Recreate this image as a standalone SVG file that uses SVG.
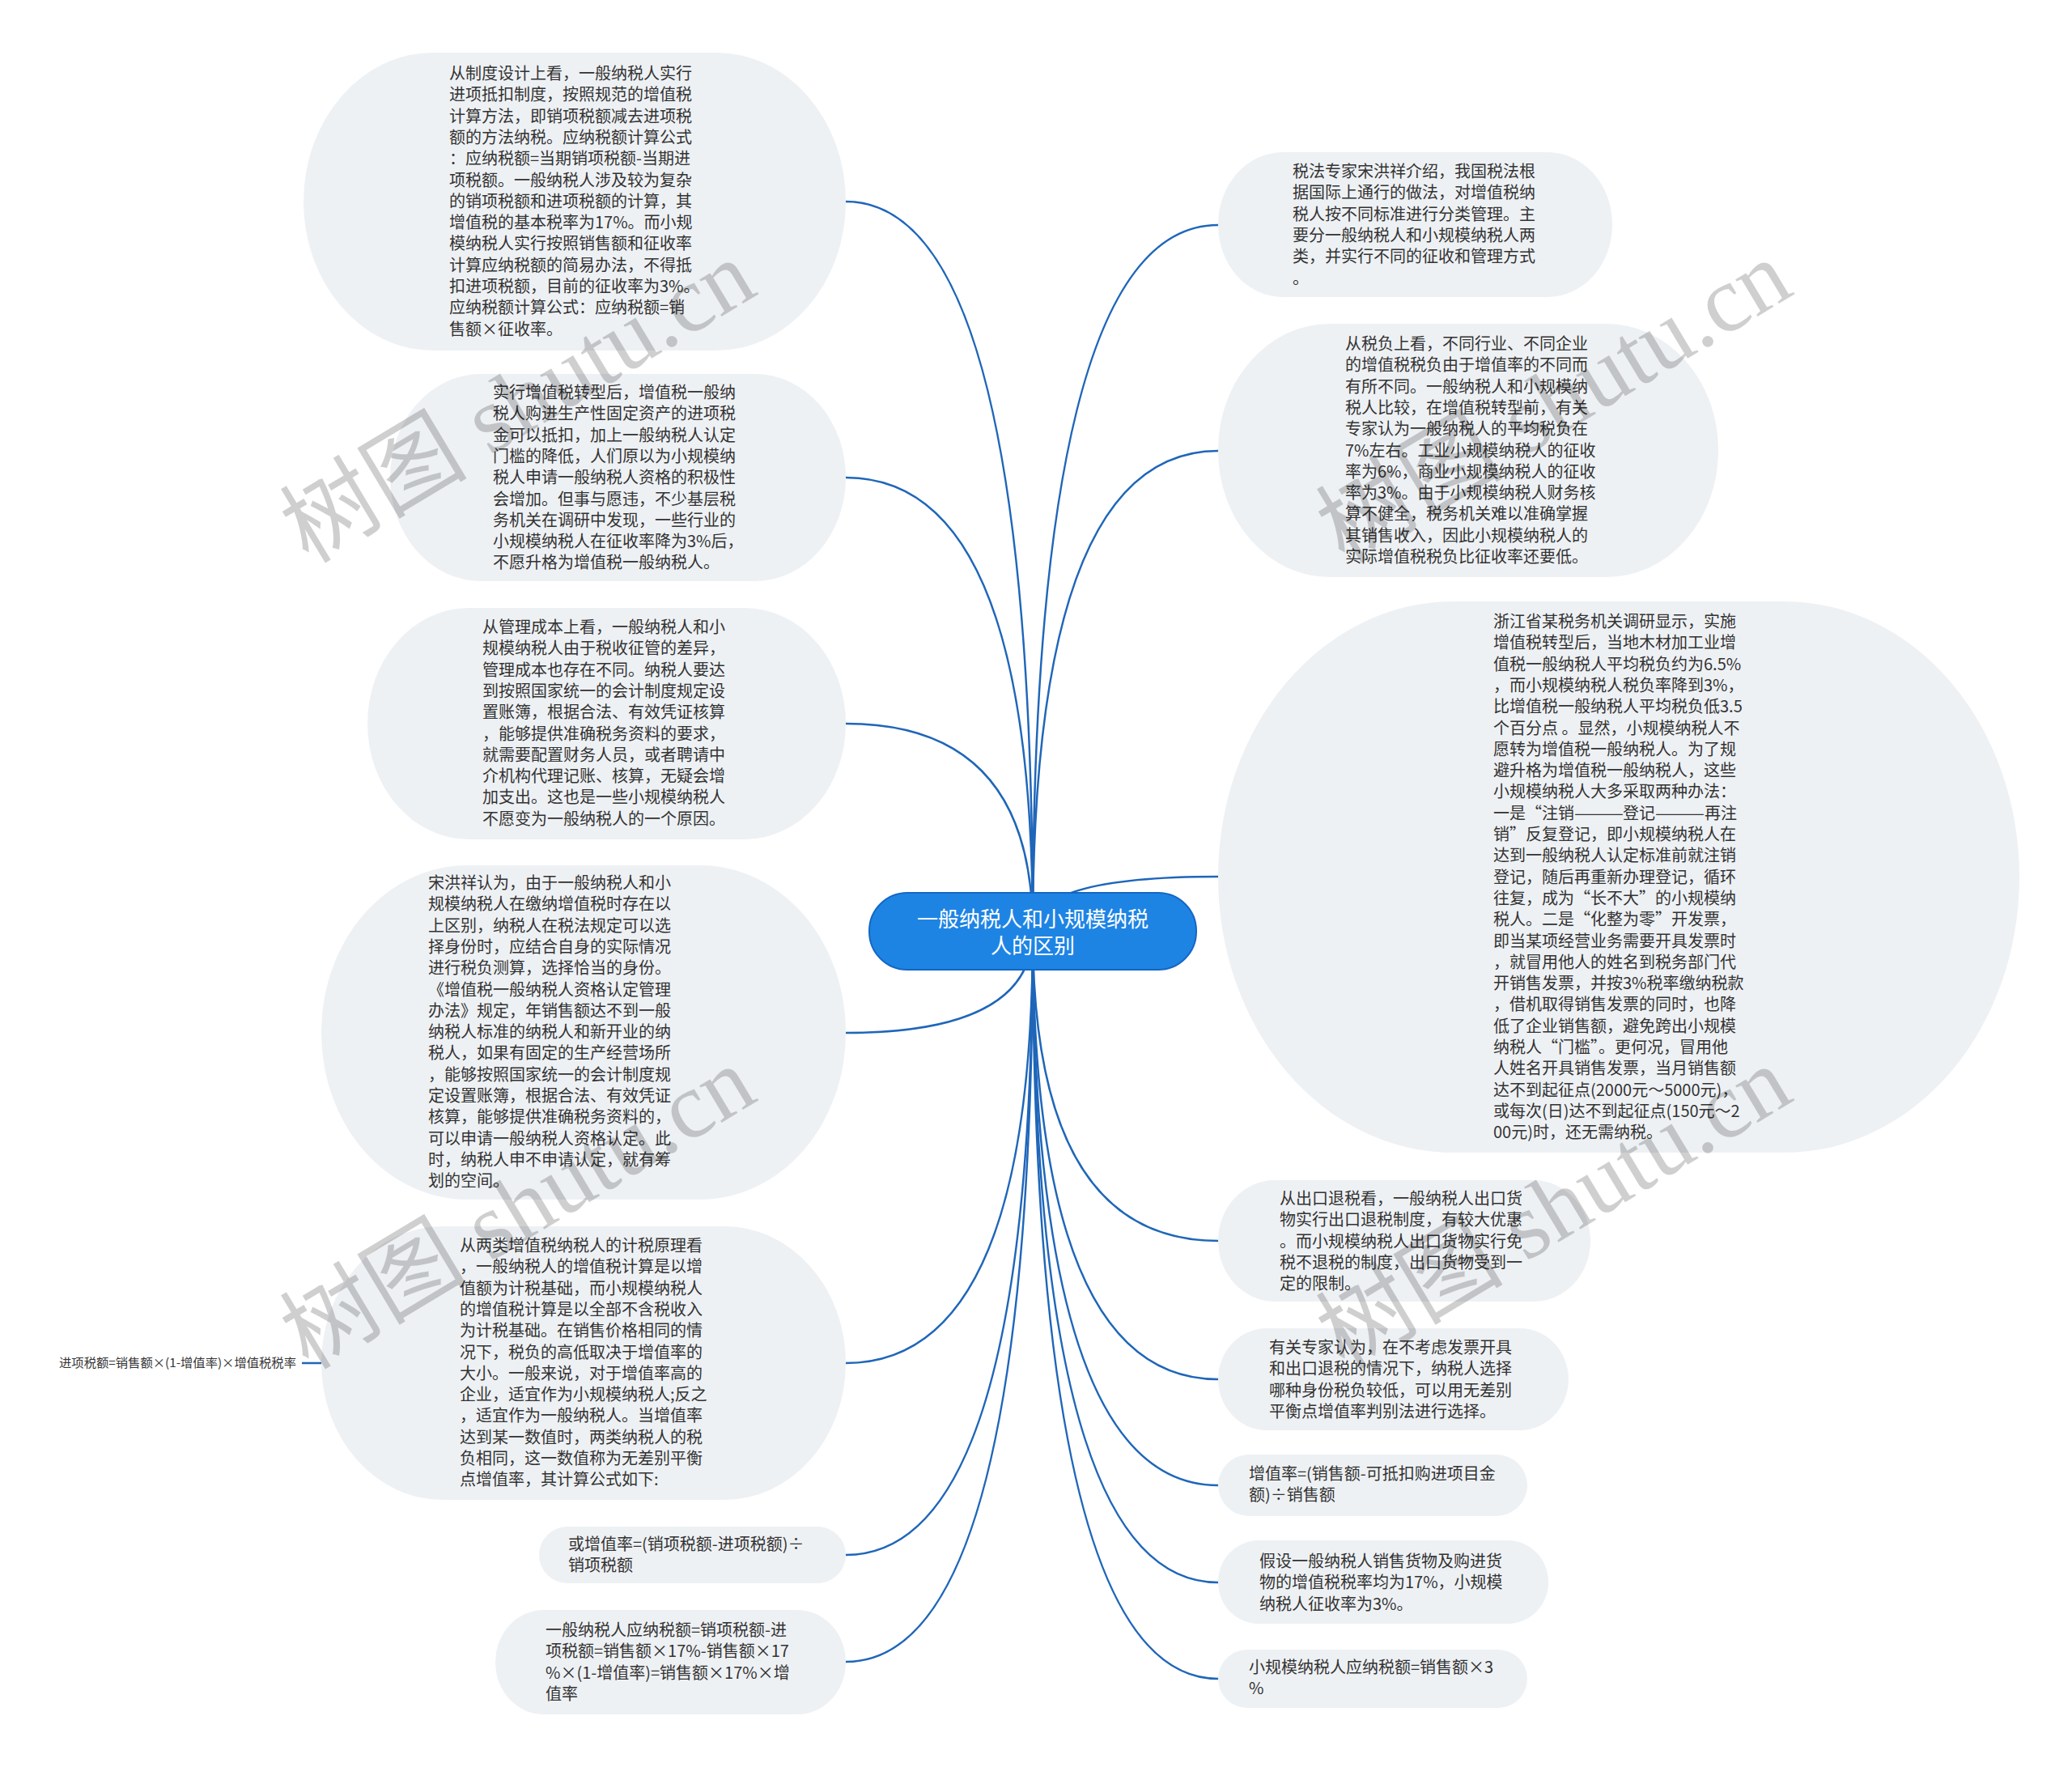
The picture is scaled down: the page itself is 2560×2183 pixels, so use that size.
<svg xmlns="http://www.w3.org/2000/svg" width="2560" height="2183" viewBox="0 0 2560 2183">
<style>
.bg{fill:#ffffff}
.node{fill:#eef1f4}
.t{font-family:"Noto Sans CJK SC","Noto Sans",sans-serif;font-size:20px;fill:#333333}
.lbl{font-family:"Noto Sans CJK SC","Noto Sans",sans-serif;font-size:15px;fill:#333333}
.edge{fill:none;stroke:#1f66b9;stroke-width:2.5}
.root{fill:#1e84e4;stroke:#1467c4;stroke-width:2}
.rt{font-family:"Noto Sans CJK SC","Noto Sans",sans-serif;font-size:26px;fill:#ffffff;text-anchor:middle}
.wm{font-family:"Liberation Serif","Noto Sans CJK SC",serif;font-size:116px;fill:#000000;fill-opacity:0.19;text-anchor:middle}
</style>
<rect class="bg" x="0" y="0" width="2560" height="2183"/>
<g id="connectors">
<path class="edge" d="M1276,1150 Q1276,249 1045,249"/>
<path class="edge" d="M1276,1150 Q1276,590 1045,590"/>
<path class="edge" d="M1276,1150 Q1276,894 1045,894"/>
<path class="edge" d="M1276,1150 Q1276,1276 1045,1276"/>
<path class="edge" d="M1276,1150 Q1276,1684 1045,1684"/>
<path class="edge" d="M1276,1150 Q1276,1921 1045,1921"/>
<path class="edge" d="M1276,1150 Q1276,2053 1045,2053"/>
<path class="edge" d="M1276,1150 Q1276,278 1505,278"/>
<path class="edge" d="M1276,1150 Q1276,557 1505,557"/>
<path class="edge" d="M1276,1150 Q1276,1083 1505,1083"/>
<path class="edge" d="M1276,1150 Q1276,1533 1505,1533"/>
<path class="edge" d="M1276,1150 Q1276,1704 1505,1704"/>
<path class="edge" d="M1276,1150 Q1276,1835 1505,1835"/>
<path class="edge" d="M1276,1150 Q1276,1955 1505,1955"/>
<path class="edge" d="M1276,1150 Q1276,2074 1505,2074"/>
<path class="edge" d="M373,1684 L397,1684"/>
</g>
<g id="node-l1">
<rect class="node" x="375" y="65" width="670" height="368" rx="160" ry="184"/>
<text class="t" x="555" y="98"><tspan x="555" dy="0">从制度设计上看，一般纳税人实行</tspan><tspan x="555" dy="26.3">进项抵扣制度，按照规范的增值税</tspan><tspan x="555" dy="26.3">计算方法，即销项税额减去进项税</tspan><tspan x="555" dy="26.3">额的方法纳税。应纳税额计算公式</tspan><tspan x="555" dy="26.3">：应纳税额=当期销项税额-当期进</tspan><tspan x="555" dy="26.3">项税额。一般纳税人涉及较为复杂</tspan><tspan x="555" dy="26.3">的销项税额和进项税额的计算，其</tspan><tspan x="555" dy="26.3">增值税的基本税率为17%。而小规</tspan><tspan x="555" dy="26.3">模纳税人实行按照销售额和征收率</tspan><tspan x="555" dy="26.3">计算应纳税额的简易办法，不得抵</tspan><tspan x="555" dy="26.3">扣进项税额，目前的征收率为3%。</tspan><tspan x="555" dy="26.3">应纳税额计算公式：应纳税额=销</tspan><tspan x="555" dy="26.3">售额×征收率。</tspan></text>
</g>
<g id="node-l2">
<rect class="node" x="482" y="462" width="563" height="256" rx="112" ry="128"/>
<text class="t" x="609" y="492"><tspan x="609" dy="0">实行增值税转型后，增值税一般纳</tspan><tspan x="609" dy="26.3">税人购进生产性固定资产的进项税</tspan><tspan x="609" dy="26.3">金可以抵扣，加上一般纳税人认定</tspan><tspan x="609" dy="26.3">门槛的降低，人们原以为小规模纳</tspan><tspan x="609" dy="26.3">税人申请一般纳税人资格的积极性</tspan><tspan x="609" dy="26.3">会增加。但事与愿违，不少基层税</tspan><tspan x="609" dy="26.3">务机关在调研中发现，一些行业的</tspan><tspan x="609" dy="26.3">小规模纳税人在征收率降为3%后，</tspan><tspan x="609" dy="26.3">不愿升格为增值税一般纳税人。</tspan></text>
</g>
<g id="node-l3">
<rect class="node" x="454" y="751" width="591" height="286" rx="125" ry="143"/>
<text class="t" x="596" y="782"><tspan x="596" dy="0">从管理成本上看，一般纳税人和小</tspan><tspan x="596" dy="26.3">规模纳税人由于税收征管的差异，</tspan><tspan x="596" dy="26.3">管理成本也存在不同。纳税人要达</tspan><tspan x="596" dy="26.3">到按照国家统一的会计制度规定设</tspan><tspan x="596" dy="26.3">置账簿，根据合法、有效凭证核算</tspan><tspan x="596" dy="26.3">，能够提供准确税务资料的要求，</tspan><tspan x="596" dy="26.3">就需要配置财务人员，或者聘请中</tspan><tspan x="596" dy="26.3">介机构代理记账、核算，无疑会增</tspan><tspan x="596" dy="26.3">加支出。这也是一些小规模纳税人</tspan><tspan x="596" dy="26.3">不愿变为一般纳税人的一个原因。</tspan></text>
</g>
<g id="node-l4">
<rect class="node" x="397" y="1069" width="648" height="413" rx="180" ry="206"/>
<text class="t" x="529" y="1098"><tspan x="529" dy="0">宋洪祥认为，由于一般纳税人和小</tspan><tspan x="529" dy="26.3">规模纳税人在缴纳增值税时存在以</tspan><tspan x="529" dy="26.3">上区别，纳税人在税法规定可以选</tspan><tspan x="529" dy="26.3">择身份时，应结合自身的实际情况</tspan><tspan x="529" dy="26.3">进行税负测算，选择恰当的身份。</tspan><tspan x="529" dy="26.3">《增值税一般纳税人资格认定管理</tspan><tspan x="529" dy="26.3">办法》规定，年销售额达不到一般</tspan><tspan x="529" dy="26.3">纳税人标准的纳税人和新开业的纳</tspan><tspan x="529" dy="26.3">税人，如果有固定的生产经营场所</tspan><tspan x="529" dy="26.3">，能够按照国家统一的会计制度规</tspan><tspan x="529" dy="26.3">定设置账簿，根据合法、有效凭证</tspan><tspan x="529" dy="26.3">核算，能够提供准确税务资料的，</tspan><tspan x="529" dy="26.3">可以申请一般纳税人资格认定。此</tspan><tspan x="529" dy="26.3">时，纳税人申不申请认定，就有筹</tspan><tspan x="529" dy="26.3">划的空间。</tspan></text>
</g>
<g id="node-l5">
<rect class="node" x="397" y="1515" width="648" height="338" rx="150" ry="169"/>
<text class="t" x="568" y="1546"><tspan x="568" dy="0">从两类增值税纳税人的计税原理看</tspan><tspan x="568" dy="26.3">，一般纳税人的增值税计算是以增</tspan><tspan x="568" dy="26.3">值额为计税基础，而小规模纳税人</tspan><tspan x="568" dy="26.3">的增值税计算是以全部不含税收入</tspan><tspan x="568" dy="26.3">为计税基础。在销售价格相同的情</tspan><tspan x="568" dy="26.3">况下，税负的高低取决于增值率的</tspan><tspan x="568" dy="26.3">大小。一般来说，对于增值率高的</tspan><tspan x="568" dy="26.3">企业，适宜作为小规模纳税人;反之</tspan><tspan x="568" dy="26.3">，适宜作为一般纳税人。当增值率</tspan><tspan x="568" dy="26.3">达到某一数值时，两类纳税人的税</tspan><tspan x="568" dy="26.3">负相同，这一数值称为无差别平衡</tspan><tspan x="568" dy="26.3">点增值率，其计算公式如下:</tspan></text>
</g>
<g id="node-l5a">
<text class="lbl" x="73" y="1689" textLength="293" lengthAdjust="spacingAndGlyphs">进项税额=销售额×(1-增值率)×增值税税率</text>
</g>
<g id="node-l6">
<rect class="node" x="666" y="1886" width="379" height="70" rx="35" ry="35"/>
<text class="t" x="702" y="1915"><tspan x="702" dy="0">或增值率=(销项税额-进项税额)÷</tspan><tspan x="702" dy="26.3">销项税额</tspan></text>
</g>
<g id="node-l7">
<rect class="node" x="612" y="1989" width="433" height="129" rx="60" ry="64"/>
<text class="t" x="674" y="2021"><tspan x="674" dy="0">一般纳税人应纳税额=销项税额-进</tspan><tspan x="674" dy="26.3">项税额=销售额×17%-销售额×17</tspan><tspan x="674" dy="26.3">%×(1-增值率)=销售额×17%×增</tspan><tspan x="674" dy="26.3">值率</tspan></text>
</g>
<g id="node-r1">
<rect class="node" x="1505" y="188" width="487" height="179" rx="80" ry="89"/>
<text class="t" x="1597" y="219"><tspan x="1597" dy="0">税法专家宋洪祥介绍，我国税法根</tspan><tspan x="1597" dy="26.3">据国际上通行的做法，对增值税纳</tspan><tspan x="1597" dy="26.3">税人按不同标准进行分类管理。主</tspan><tspan x="1597" dy="26.3">要分一般纳税人和小规模纳税人两</tspan><tspan x="1597" dy="26.3">类，并实行不同的征收和管理方式</tspan><tspan x="1597" dy="26.3">。</tspan></text>
</g>
<g id="node-r2">
<rect class="node" x="1505" y="400" width="618" height="313" rx="138" ry="156"/>
<text class="t" x="1662" y="432"><tspan x="1662" dy="0">从税负上看，不同行业、不同企业</tspan><tspan x="1662" dy="26.3">的增值税税负由于增值率的不同而</tspan><tspan x="1662" dy="26.3">有所不同。一般纳税人和小规模纳</tspan><tspan x="1662" dy="26.3">税人比较，在增值税转型前，有关</tspan><tspan x="1662" dy="26.3">专家认为一般纳税人的平均税负在</tspan><tspan x="1662" dy="26.3">7%左右。工业小规模纳税人的征收</tspan><tspan x="1662" dy="26.3">率为6%，商业小规模纳税人的征收</tspan><tspan x="1662" dy="26.3">率为3%。由于小规模纳税人财务核</tspan><tspan x="1662" dy="26.3">算不健全，税务机关难以准确掌握</tspan><tspan x="1662" dy="26.3">其销售收入，因此小规模纳税人的</tspan><tspan x="1662" dy="26.3">实际增值税税负比征收率还要低。</tspan></text>
</g>
<g id="node-r3">
<rect class="node" x="1505" y="743" width="990" height="681" rx="290" ry="340"/>
<text class="t" x="1845" y="775"><tspan x="1845" dy="0">浙江省某税务机关调研显示，实施</tspan><tspan x="1845" dy="26.3">增值税转型后，当地木材加工业增</tspan><tspan x="1845" dy="26.3">值税一般纳税人平均税负约为6.5%</tspan><tspan x="1845" dy="26.3">，而小规模纳税人税负率降到3%，</tspan><tspan x="1845" dy="26.3">比增值税一般纳税人平均税负低3.5</tspan><tspan x="1845" dy="26.3">个百分点 。显然，小规模纳税人不</tspan><tspan x="1845" dy="26.3">愿转为增值税一般纳税人。为了规</tspan><tspan x="1845" dy="26.3">避升格为增值税一般纳税人，这些</tspan><tspan x="1845" dy="26.3">小规模纳税人大多采取两种办法：</tspan></text>
<text class="t" x="1845" y="1011.7" textLength="100" lengthAdjust="spacingAndGlyphs">一是“注销</text>
<text class="t" x="1945" y="1011.7" textLength="61" lengthAdjust="spacingAndGlyphs">———</text>
<text class="t" x="2005" y="1011.7" textLength="40" lengthAdjust="spacingAndGlyphs">登记</text>
<text class="t" x="2045" y="1011.7" textLength="61" lengthAdjust="spacingAndGlyphs">———</text>
<text class="t" x="2106" y="1011.7" textLength="40" lengthAdjust="spacingAndGlyphs">再注</text>
<text class="t" x="1845" y="1038"><tspan x="1845" dy="0">销”反复登记，即小规模纳税人在</tspan><tspan x="1845" dy="26.3">达到一般纳税人认定标准前就注销</tspan><tspan x="1845" dy="26.3">登记，随后再重新办理登记，循环</tspan><tspan x="1845" dy="26.3">往复，成为“长不大”的小规模纳</tspan><tspan x="1845" dy="26.3">税人。二是“化整为零”开发票，</tspan><tspan x="1845" dy="26.3">即当某项经营业务需要开具发票时</tspan><tspan x="1845" dy="26.3">，就冒用他人的姓名到税务部门代</tspan><tspan x="1845" dy="26.3">开销售发票，并按3%税率缴纳税款</tspan><tspan x="1845" dy="26.3">，借机取得销售发票的同时，也降</tspan><tspan x="1845" dy="26.3">低了企业销售额，避免跨出小规模</tspan><tspan x="1845" dy="26.3">纳税人“门槛”。更何况，冒用他</tspan><tspan x="1845" dy="26.3">人姓名开具销售发票，当月销售额</tspan><tspan x="1845" dy="26.3">达不到起征点(2000元～5000元)，</tspan><tspan x="1845" dy="26.3">或每次(日)达不到起征点(150元～2</tspan><tspan x="1845" dy="26.3">00元)时，还无需纳税。</tspan></text>
</g>
<g id="node-r4">
<rect class="node" x="1505" y="1458" width="460" height="150" rx="70" ry="75"/>
<text class="t" x="1581" y="1488"><tspan x="1581" dy="0">从出口退税看，一般纳税人出口货</tspan><tspan x="1581" dy="26.3">物实行出口退税制度，有较大优惠</tspan><tspan x="1581" dy="26.3">。而小规模纳税人出口货物实行免</tspan><tspan x="1581" dy="26.3">税不退税的制度，出口货物受到一</tspan><tspan x="1581" dy="26.3">定的限制。</tspan></text>
</g>
<g id="node-r5">
<rect class="node" x="1505" y="1641" width="433" height="126" rx="60" ry="63"/>
<text class="t" x="1568" y="1672"><tspan x="1568" dy="0">有关专家认为，在不考虑发票开具</tspan><tspan x="1568" dy="26.3">和出口退税的情况下，纳税人选择</tspan><tspan x="1568" dy="26.3">哪种身份税负较低，可以用无差别</tspan><tspan x="1568" dy="26.3">平衡点增值率判别法进行选择。</tspan></text>
</g>
<g id="node-r6">
<rect class="node" x="1505" y="1797" width="382" height="76" rx="38" ry="38"/>
<text class="t" x="1543" y="1828"><tspan x="1543" dy="0">增值率=(销售额-可抵扣购进项目金</tspan><tspan x="1543" dy="26.3">额)÷销售额</tspan></text>
</g>
<g id="node-r7">
<rect class="node" x="1505" y="1903" width="408" height="103" rx="50" ry="51"/>
<text class="t" x="1556" y="1936"><tspan x="1556" dy="0">假设一般纳税人销售货物及购进货</tspan><tspan x="1556" dy="26.3">物的增值税税率均为17%，小规模</tspan><tspan x="1556" dy="26.3">纳税人征收率为3%。</tspan></text>
</g>
<g id="node-r8">
<rect class="node" x="1505" y="2038" width="382" height="72" rx="36" ry="36"/>
<text class="t" x="1543" y="2067"><tspan x="1543" dy="0">小规模纳税人应纳税额=销售额×3</tspan><tspan x="1543" dy="26.3">%</tspan></text>
</g>
<g id="node-root">
<rect class="root" x="1074" y="1103" width="404" height="95" rx="47" ry="47"/>
<text class="rt" x="1276" y="1145"><tspan x="1276" dy="0">一般纳税人和小规模纳税</tspan><tspan x="1276" dy="33">人的区别</tspan></text>
</g>
<g id="watermarks">
<text class="wm" transform="translate(660,530) rotate(-31)" x="0" y="0">树图 shutu.cn</text>
<text class="wm" transform="translate(1940,530) rotate(-31)" x="0" y="0">树图 shutu.cn</text>
<text class="wm" transform="translate(660,1526) rotate(-31)" x="0" y="0">树图 shutu.cn</text>
<text class="wm" transform="translate(1940,1526) rotate(-31)" x="0" y="0">树图 shutu.cn</text>
</g>
</svg>
